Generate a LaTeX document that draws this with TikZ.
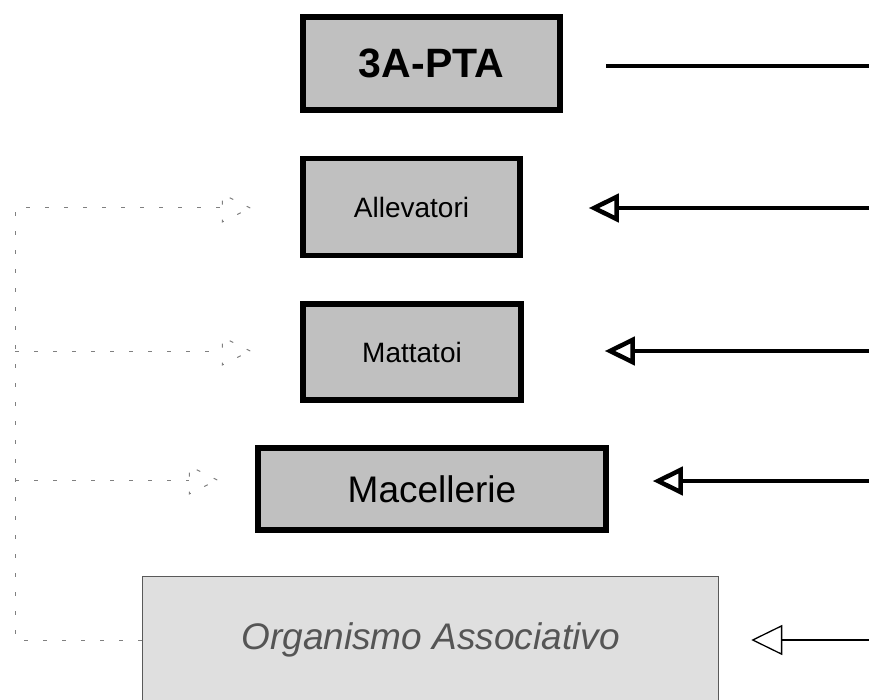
\documentclass[tikz,border=0pt]{standalone}
\usepackage{fontspec}
\setmainfont{Liberation Sans}
\usetikzlibrary{
	arrows.meta,
	positioning,
	calc
}
\definecolor{boxgray}{HTML}{C0C0C0}
\definecolor{palegray}{HTML}{DFDFDF}
\definecolor{textgray}{HTML}{555555}
\definecolor{dotgray}{HTML}{808080}
\tikzset{
	actor/.style={draw=black, line width=5.5pt, fill=boxgray, inner sep=0pt,
		font=\fontsize{28}{32}\selectfont},
	assoc/.style={draw=black!65, line width=1.5pt, fill=palegray, text=textgray,
		inner sep=0pt, font=\fontsize{37}{42}\selectfont\itshape},
	link/.style={line width=4.5pt, -{Triangle[open, length=30pt, width=28pt]}},
	thinlink/.style={line width=1.3pt, -{Triangle[open, length=31pt, width=30pt]}},
	dotline/.style={draw=dotgray, line width=1pt, dash pattern=on 4pt off 15pt}
}

\begin{document}
\begin{tikzpicture}[x=1pt, y=-1pt]

		\useasboundingbox (0,0) rectangle (869,700);

		% boxes
		\node[actor, minimum width=257pt, minimum height=93pt,
			font=\fontsize{41}{48}\selectfont\bfseries] (pta) at (431.5,63.5) {3A-PTA};
		\node[actor, minimum width=217pt, minimum height=97pt] (allev) at (411.5,207) {Allevatori};
		\node[actor, minimum width=218pt, minimum height=96pt] (matt) at (412,352) {Mattatoi};
		\node[actor, minimum width=348pt, minimum height=82pt,
			font=\fontsize{37}{42}\selectfont] (macel) at (432,489) {Macellerie};
		\node[assoc, minimum width=576pt, minimum height=127pt] (orga) at (430.5,640) {Organismo Associativo};

		% right side
		\coordinate (edgeP) at (869,66);
		\coordinate (edgeA) at (869,208);
		\coordinate (edgeB) at (869,351);
		\coordinate (edgeC) at (869,481);
		\coordinate (edgeD) at (869,640);

		\draw[line width=4.5pt] (edgeP) -- ($(pta.east |- edgeP)+(43,0)$);
		\draw[link] (edgeA) -- ($(allev.east |- edgeA)+(66,0)$);
		\draw[link] (edgeB) -- ($(matt.east |- edgeB)+(81,0)$);
		\draw[link] (edgeC) -- ($(macel.east |- edgeC)+(44,0)$);
		\draw[thinlink] (edgeD) -- ($(orga.east |- edgeD)+(32,0)$);

		% left side
		\coordinate (railA) at (15,208);
		\coordinate (railB) at (15,351);
		\coordinate (railC) at (15,480);

		\coordinate (tipA) at ($(allev.west |- railA)+(-50,0)$);
		\coordinate (tipB) at ($(matt.west |- railB)+(-50,0)$);
		\coordinate (tipC) at ($(macel.west |- railC)+(-38,0)$);

		\draw[dotline] (orga.west) -| (railA) -- ($(tipA)+(-28,0)$);
		\draw[dotline] (railB) -- ($(tipB)+(-28,0)$);
		\draw[dotline] (railC) -- ($(tipC)+(-28,0)$);

		\foreach \t in {tipA,tipB,tipC} {
		\draw[dotline] (\t) -- ++(-28,-14) -- ++(0,28) -- cycle;
		}

	\end{tikzpicture}
\end{document}
